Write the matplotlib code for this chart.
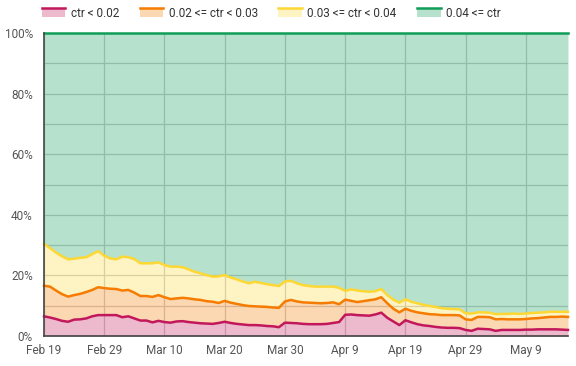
import numpy as np
import pandas as pd
import matplotlib
matplotlib.use("Agg")
import matplotlib.pyplot as plt
from matplotlib.legend_handler import HandlerBase
from matplotlib.patches import Rectangle
from matplotlib.lines import Line2D

plt.rcParams['font.family'] = ['Roboto', 'DejaVu Sans']

dates = pd.date_range("2020-02-19", "2020-05-16", freq="D")
labels = ["ctr < 0.02", "0.02 <= ctr < 0.03", "0.03 <= ctr < 0.04", "0.04 <= ctr"]

# cumulative boundaries (percent)
low = [6.5, 6.1, 5.6, 5.0, 4.7, 5.4, 5.5, 5.8, 6.5, 6.9,
       6.9, 6.9, 6.9, 6.2, 6.5, 5.8, 5.1, 5.1, 4.5, 5.0,
       4.6, 4.4, 4.8, 4.9, 4.6, 4.4, 4.2, 4.1, 4.0, 4.3,
       4.7, 4.3, 4.0, 3.8, 3.6, 3.6, 3.5, 3.3, 3.2, 2.9,
       4.4, 4.3, 4.2, 4.0, 3.9, 3.9, 3.9, 4.0, 4.3, 4.6,
       7.0, 7.1, 6.9, 6.8, 6.7, 7.1, 7.7, 6.0, 4.8, 3.6,
       5.2, 4.5, 3.9, 3.5, 3.3, 3.0, 2.8, 2.7, 2.7, 2.6,
       2.0, 1.7, 2.4, 2.3, 2.2, 1.7, 2.0, 2.0, 2.0, 2.0,
       2.1, 2.1, 2.2, 2.2, 2.2, 2.2, 2.1, 2.0]
mid = [16.6, 16.3, 15.0, 13.8, 13.0, 13.5, 13.9, 14.5, 15.2, 16.1,
       15.8, 15.6, 15.5, 15.0, 15.2, 14.3, 13.2, 13.2, 12.9, 13.5,
       12.8, 12.2, 12.4, 12.6, 12.4, 12.1, 11.9, 11.5, 11.3, 10.9,
       11.6, 11.0, 10.6, 10.2, 9.9, 9.8, 9.7, 9.6, 9.4, 9.3,
       11.4, 11.9, 11.4, 11.1, 11.0, 10.9, 10.8, 10.9, 11.1, 10.5,
       12.0, 11.6, 11.2, 11.5, 11.8, 12.1, 12.8, 10.8, 9.0, 7.8,
       9.0, 8.3, 7.8, 7.5, 7.2, 7.1, 6.9, 6.9, 6.9, 6.8,
       5.5, 5.3, 6.3, 6.3, 6.2, 5.5, 5.6, 5.5, 5.5, 5.5,
       5.6, 5.8, 5.9, 6.1, 6.3, 6.3, 6.4, 6.3]
high = [30.4, 29.0, 27.5, 26.3, 25.3, 25.5, 25.8, 26.0, 27.0, 28.0,
        26.5, 25.6, 25.3, 26.2, 26.0, 25.4, 24.0, 24.0, 24.0, 24.3,
        23.4, 22.9, 22.9, 22.7, 22.0, 21.2, 20.7, 20.1, 19.6, 19.7,
        20.1, 19.3, 18.7, 18.0, 17.4, 17.9, 17.5, 17.1, 16.8, 16.5,
        18.0, 18.2, 17.4, 16.8, 16.5, 16.3, 16.3, 16.3, 16.3, 15.9,
        14.9, 15.4, 15.0, 14.8, 14.6, 14.8, 15.5, 13.5, 12.0, 11.0,
        12.1, 11.3, 10.8, 10.3, 9.9, 9.6, 9.2, 9.0, 8.9, 8.8,
        7.5, 7.4, 7.8, 7.8, 7.7, 7.2, 7.3, 7.3, 7.4, 7.3,
        7.4, 7.6, 7.7, 7.8, 8.0, 8.0, 8.0, 8.0]
top = [100.0] * len(dates)

line_colors = ["#c2185b", "#f57c00", "#fdd835", "#0f9d58"]

fig = plt.figure(figsize=(5.76, 3.66), dpi=100)
ax = fig.add_axes([44 / 576, 30 / 366, 524 / 576, 303 / 366])

x = np.arange(len(dates))
bounds = [np.zeros(len(dates)), np.array(low), np.array(mid), np.array(high), np.array(top)]
for i in range(4):
    ax.fill_between(x, bounds[i], bounds[i + 1], color=line_colors[i], alpha=0.3,
                    lw=0, zorder=2)
for i in range(4):
    ax.plot(x, bounds[i + 1], color=line_colors[i], lw=1.8, zorder=3,
            solid_joinstyle="round", clip_on=False)

ax.set_xlim(0, len(dates) - 1)
ax.set_ylim(0, 100)
ticks = x[::10]
ax.set_xticks(ticks)
ax.set_xticklabels([f"{d:%b} {d.day}" for d in dates[::10]])
ax.set_yticks(np.arange(0, 101, 20))
ax.set_yticklabels([f"{v}%" for v in range(0, 101, 20)])
ax.set_yticks(np.arange(0, 101, 10), minor=True)
ax.tick_params(axis="both", which="both", length=0, labelsize=8.5, colors="#555555")
ax.tick_params(axis="x", pad=6)
ax.tick_params(axis="y", pad=8)
ax.grid(True, which="both", color="#cccccc", lw=0.9, zorder=1)
ax.set_axisbelow(True)
for s in ["top", "right"]:
    ax.spines[s].set_visible(False)
for s in ["left", "bottom"]:
    ax.spines[s].set_color("#444444")
    ax.spines[s].set_linewidth(1.2)
    ax.spines[s].set_zorder(4)


class AreaHandler(HandlerBase):
    def create_artists(self, legend, orig_handle, xdescent, ydescent, width, height,
                       fontsize, trans):
        c = orig_handle.get_color()
        r = Rectangle((-xdescent, -ydescent), width, height, facecolor=c, alpha=0.3,
                      lw=0, transform=trans)
        ln = Line2D([-xdescent, -xdescent + width], [-ydescent + height] * 2,
                    color=c, lw=1.8, transform=trans)
        return [r, ln]


handles = [Line2D([], [], color=c) for c in line_colors]
fig.legend(handles, labels, handler_map={Line2D: AreaHandler()}, loc="upper left",
           bbox_to_anchor=(31 / 576, 1.01), ncol=4, frameon=False, fontsize=8.5,
           handlelength=2.0, handleheight=0.8, handletextpad=0.45, columnspacing=1.75,
           labelcolor="#333333")

fig.savefig("out.png", dpi=100)
